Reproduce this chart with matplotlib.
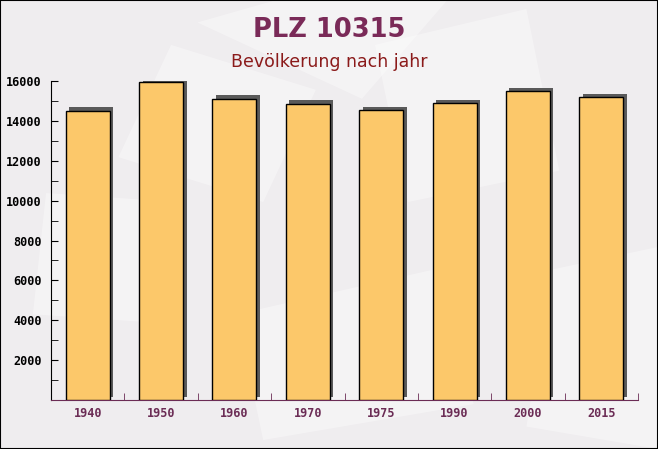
import matplotlib
matplotlib.use("Agg")
import matplotlib.pyplot as plt
import matplotlib.patheffects as pe
from matplotlib.patches import Polygon, Rectangle
from matplotlib.ticker import MultipleLocator

years = ["1940", "1950", "1960", "1970", "1975", "1990", "2000", "2015"]
population = [14520, 15950, 15110, 14870, 14530, 14880, 15480, 15180]
title = "PLZ 10315"
subtitle = "Bevölkerung nach jahr"

fig = plt.figure(figsize=(6.58, 4.49), dpi=100)
fig.patch.set_facecolor("#efedef")

# background axes with faint decorative shapes
bg = fig.add_axes([0, 0, 1, 1], zorder=-10)
bg.set_xlim(0, 1)
bg.set_ylim(0, 1)
bg.axis("off")
deco = [
    [(0.30, 0.95), (0.55, 0.78), (0.68, 1.0), (0.42, 1.0)],
    [(0.62, 0.55), (0.85, 0.62), (0.80, 0.98), (0.57, 0.90)],
    [(0.05, 0.30), (0.25, 0.28), (0.27, 0.55), (0.07, 0.57)],
    [(0.40, 0.02), (0.72, 0.10), (0.66, 0.40), (0.36, 0.30)],
    [(0.80, 0.05), (1.0, 0.0), (1.0, 0.45), (0.84, 0.40)],
    [(0.18, 0.65), (0.40, 0.55), (0.48, 0.80), (0.26, 0.90)],
]
for pts in deco:
    bg.add_patch(Polygon(pts, closed=True, facecolor="white", alpha=0.35, edgecolor="none"))

ax = fig.add_axes([51/658, 1 - 400/449, (638 - 51)/658, (400 - 81)/449], zorder=1)
ax.set_facecolor("none")

x = list(range(len(years)))
bars = ax.bar(x, population, width=0.6, color="#fcc86a", edgecolor="black",
              linewidth=1.0, zorder=3)
for b in bars:
    b.set_path_effects([pe.SimplePatchShadow(offset=(2.5, 2.5), shadow_rgbFace="#5a5a5a", alpha=1.0),
                        pe.Normal()])

ax.set_xlim(-0.5, len(years) - 0.5)
ax.set_ylim(0, 16000)

ax.set_xticks(x)
ax.set_xticklabels(years, fontfamily="DejaVu Sans Mono", fontweight="bold",
                   fontsize=8.5, color="#6b2c55")
ax.tick_params(axis="x", which="major", length=0, pad=5)
ax.set_xticks([i + 0.5 for i in x], minor=True)
ax.tick_params(axis="x", which="minor", direction="in", length=5, color="#6b2c55")

ax.yaxis.set_major_locator(MultipleLocator(2000))
ax.yaxis.set_minor_locator(MultipleLocator(1000))
ax.set_yticks([v for v in range(2000, 16001, 2000)])
ax.tick_params(axis="y", which="both", direction="in", length=5, color="black", pad=6.5)
for lab in ax.get_yticklabels():
    lab.set_fontfamily("DejaVu Sans Mono")
    lab.set_fontweight("bold")
    lab.set_fontsize(8.5)

for s in ["top", "right"]:
    ax.spines[s].set_visible(False)
ax.spines["left"].set_color("black")
ax.spines["bottom"].set_color("#6b2c55")

fig.text(0.5, 1 - 30/449, title, ha="center", va="center", fontsize=18.5,
         fontweight="bold", color="#7a2a58", family="DejaVu Sans")
fig.text(0.5, 1 - 62/449, subtitle, ha="center", va="center", fontsize=12.5,
         color="#8b1a1a", family="DejaVu Sans")

fig.patches.append(Rectangle((0, 0), 1, 1, transform=fig.transFigure, fill=False,
                             edgecolor="black", linewidth=1.5, zorder=10))

fig.savefig("out.png", dpi=100, facecolor=fig.get_facecolor())
